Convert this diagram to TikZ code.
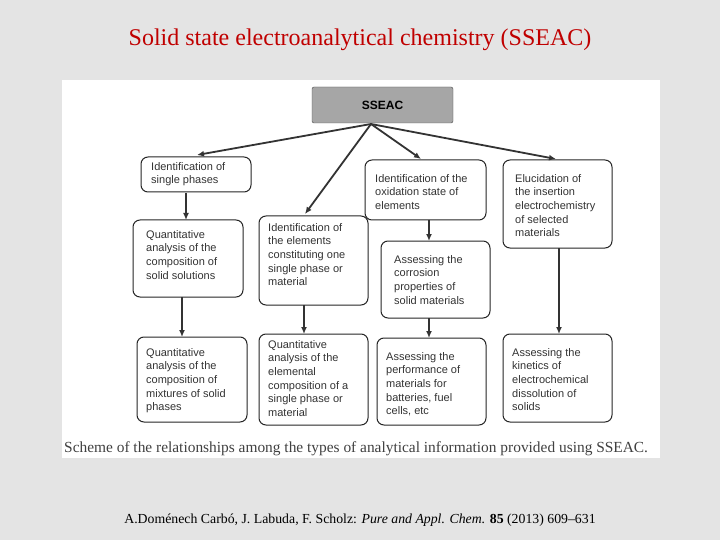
\documentclass[tikz,border=0pt]{standalone}
\usepackage{fontspec}
\setmainfont{Liberation Serif}
\newfontfamily\boxfont{Liberation Sans}
\usetikzlibrary{arrows.meta}
\definecolor{slidebg}{HTML}{E4E4E4}
\definecolor{titlered}{HTML}{C00000}
\begin{document}
\begin{tikzpicture}[x=1pt,y=-1pt,
  ar/.style={-{Latex[length=7pt,width=6pt]},line width=1.8pt,black!80}]
\useasboundingbox (0,0) rectangle (720,540);
\fill[slidebg] (0,0) rectangle (720,540);
\fill[white] (62,80) rectangle (660,458);
\node[font=\fontsize{24}{27}\selectfont,text=titlered] (title) at (360,40) {Solid state electroanalytical chemistry (SSEAC)};
\node[draw=black!70,fill=black!35,rounded corners=2pt,minimum width=141pt,minimum height=36pt,font=\boxfont\bfseries\fontsize{12}{14}\selectfont] (s) at (382.5,105) {SSEAC};
\newcommand\bxn[8]{\draw[draw=black!85,line width=1pt,rounded corners=7pt] (#2,#3) rectangle (#4,#5); \node[anchor=north west,align=left,inner sep=0pt,font=\boxfont\fontsize{11}{13.7}\selectfont,text=black!80] (#1) at (#2+#6,#3+#7-4) {#8};}
\bxn{a}{141}{157}{251}{192}{10}{9}{Identification of\\single phases}
\bxn{b}{133}{220}{243}{297}{13}{14}{Quantitative\\analysis of the\\composition of\\solid solutions}
\bxn{c}{137}{337}{247}{422}{9}{15}{Quantitative\\analysis of the\\composition of\\mixtures of solid\\phases}
\bxn{d}{259}{216}{368}{305}{9}{11}{Identification of\\the elements\\constituting one\\single phase or\\material}
\bxn{e}{259}{334}{368}{425}{9}{10}{Quantitative\\analysis of the\\elemental\\composition of a\\single phase or\\material}
\bxn{f}{365}{160}{486}{220}{10}{18}{Identification of the\\oxidation state of\\elements}
\bxn{g}{381}{241}{490}{318}{13}{18}{Assessing the\\corrosion\\properties of\\solid materials}
\bxn{h}{377}{338}{486}{425}{9}{18}{Assessing the\\performance of\\materials for\\batteries, fuel\\cells, etc}
\bxn{i}{503}{160}{612}{248}{12}{18}{Elucidation of\\the insertion\\electrochemistry\\of selected\\materials}
\bxn{j}{503}{334}{612}{422}{9}{18}{Assessing the\\kinetics of\\electrochemical\\dissolution of\\solids}
\coordinate (so) at (371,124);
\draw[ar] (so) -- (197,155);
\draw[ar] (so) -- (305,214);
\draw[ar] (so) -- (421,159);
\draw[ar] (so) -- (556,159);
\draw[ar] (186,193) -- (186,220);
\draw[ar] (182,297) -- (182,337);
\draw[ar] (304,305) -- (304,334);
\draw[ar] (429,220) -- (429,241);
\draw[ar] (429,318) -- (429,338);
\draw[ar] (559,248) -- (559,334);
\node[font=\fontsize{15.4}{17}\selectfont,text=black!75,anchor=west,inner sep=0pt] (cap) at (64,449) {Scheme of the relationships among the types of analytical information provided using SSEAC.};
\node[font=\fontsize{13.8}{16}\selectfont] (cit) at (360,520) {A.Doménech Carbó, J. Labuda, F. Scholz: \textit{Pure and Appl. Chem.} \textbf{85} (2013) 609–631};
\end{tikzpicture}
\end{document}
